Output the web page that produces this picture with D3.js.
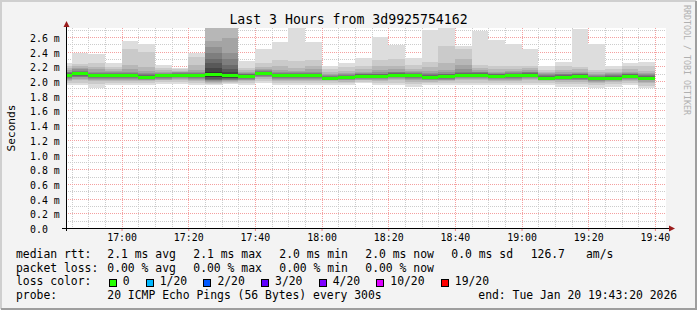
<!DOCTYPE html>
<html lang="en">
<head>
<meta charset="UTF-8">
<title>Last 3 Hours from 3d9925754162</title>
<script src="https://d3js.org/d3.v7.min.js"></script>
<style>
  body { margin: 0; background: #fff; }
  svg text { font-family: "DejaVu Sans Mono", monospace; fill: #000; }
</style>
</head>
<body>
<div id="chart"></div>
<script>
// start of each 300s step
var stepStarts = ["16:40", "16:45", "16:50", "16:55", "17:00", "17:05", "17:10", "17:15", "17:20",
    "17:25", "17:30", "17:35", "17:40", "17:45", "17:50", "17:55", "18:00", "18:05", "18:10",
    "18:15", "18:20", "18:25", "18:30", "18:35", "18:40", "18:45", "18:50", "18:55", "19:00",
    "19:05", "19:10", "19:15", "19:20", "19:25", "19:30", "19:35"];

// 20 sorted ping times (ms) per step
var pings = [
    [1.94, 1.97, 2.00, 2.02, 2.03, 2.04, 2.05, 2.06, 2.07, 2.08, 2.08, 2.09, 2.10, 2.11, 2.12, 2.13, 2.15, 2.18, 2.21, 2.25],
    [1.94, 1.98, 2.01, 2.03, 2.05, 2.06, 2.07, 2.08, 2.09, 2.10, 2.10, 2.11, 2.12, 2.13, 2.14, 2.16, 2.18, 2.20, 2.23, 2.38],
    [1.90, 1.96, 2.00, 2.02, 2.03, 2.04, 2.05, 2.06, 2.06, 2.07, 2.07, 2.08, 2.09, 2.10, 2.11, 2.13, 2.16, 2.19, 2.25, 2.37],
    [1.94, 1.97, 2.00, 2.02, 2.03, 2.04, 2.05, 2.06, 2.06, 2.07, 2.07, 2.08, 2.09, 2.10, 2.11, 2.12, 2.14, 2.16, 2.19, 2.24],
    [1.94, 1.97, 2.00, 2.02, 2.03, 2.04, 2.05, 2.06, 2.06, 2.07, 2.07, 2.08, 2.09, 2.10, 2.11, 2.13, 2.16, 2.22, 2.43, 2.55],
    [1.95, 1.98, 2.00, 2.01, 2.02, 2.03, 2.04, 2.04, 2.05, 2.05, 2.05, 2.06, 2.07, 2.08, 2.09, 2.11, 2.14, 2.19, 2.40, 2.50],
    [1.96, 1.99, 2.01, 2.02, 2.03, 2.04, 2.05, 2.06, 2.06, 2.07, 2.07, 2.08, 2.08, 2.09, 2.10, 2.11, 2.13, 2.15, 2.18, 2.22],
    [1.96, 1.99, 2.01, 2.03, 2.04, 2.05, 2.06, 2.07, 2.07, 2.08, 2.08, 2.09, 2.09, 2.10, 2.11, 2.12, 2.13, 2.14, 2.16, 2.18],
    [1.94, 1.97, 2.00, 2.02, 2.03, 2.04, 2.05, 2.06, 2.06, 2.07, 2.07, 2.08, 2.09, 2.10, 2.11, 2.13, 2.15, 2.22, 2.33, 2.38],
    [1.94, 1.96, 1.97, 1.99, 2.00, 2.01, 2.02, 2.03, 2.05, 2.06, 2.12, 2.18, 2.25, 2.30, 2.38, 2.47, 2.54, 2.80, 2.95, 3.10],
    [1.96, 1.98, 1.99, 2.00, 2.01, 2.02, 2.03, 2.04, 2.04, 2.05, 2.09, 2.12, 2.16, 2.22, 2.30, 2.38, 2.59, 2.80, 2.90, 3.00],
    [1.94, 1.98, 2.00, 2.01, 2.02, 2.03, 2.04, 2.05, 2.05, 2.06, 2.06, 2.07, 2.08, 2.09, 2.10, 2.11, 2.13, 2.15, 2.18, 2.28],
    [1.97, 2.00, 2.03, 2.05, 2.06, 2.07, 2.08, 2.09, 2.10, 2.10, 2.10, 2.11, 2.12, 2.13, 2.14, 2.15, 2.17, 2.19, 2.25, 2.44],
    [1.95, 1.98, 2.00, 2.02, 2.03, 2.04, 2.05, 2.06, 2.06, 2.07, 2.07, 2.08, 2.09, 2.10, 2.11, 2.12, 2.15, 2.20, 2.29, 2.53],
    [1.94, 1.97, 2.00, 2.02, 2.03, 2.04, 2.05, 2.06, 2.06, 2.07, 2.07, 2.08, 2.09, 2.10, 2.11, 2.12, 2.14, 2.18, 2.28, 2.85],
    [1.94, 1.97, 2.00, 2.02, 2.03, 2.04, 2.05, 2.06, 2.06, 2.07, 2.07, 2.08, 2.09, 2.10, 2.11, 2.13, 2.16, 2.21, 2.29, 2.53],
    [1.95, 1.98, 2.00, 2.01, 2.02, 2.02, 2.03, 2.03, 2.04, 2.04, 2.04, 2.05, 2.06, 2.06, 2.07, 2.08, 2.10, 2.12, 2.16, 2.20],
    [1.94, 1.97, 1.99, 2.01, 2.02, 2.03, 2.03, 2.04, 2.04, 2.05, 2.05, 2.06, 2.06, 2.07, 2.08, 2.09, 2.11, 2.14, 2.19, 2.24],
    [1.97, 1.99, 2.01, 2.02, 2.03, 2.04, 2.04, 2.05, 2.05, 2.06, 2.06, 2.07, 2.08, 2.09, 2.10, 2.11, 2.13, 2.16, 2.21, 2.31],
    [1.94, 1.97, 2.00, 2.02, 2.03, 2.04, 2.04, 2.05, 2.05, 2.06, 2.06, 2.07, 2.08, 2.09, 2.10, 2.12, 2.15, 2.20, 2.29, 2.60],
    [1.95, 1.98, 2.01, 2.03, 2.04, 2.05, 2.06, 2.07, 2.07, 2.08, 2.08, 2.09, 2.10, 2.11, 2.12, 2.13, 2.16, 2.21, 2.30, 2.49],
    [1.92, 1.96, 1.99, 2.01, 2.03, 2.04, 2.05, 2.06, 2.06, 2.07, 2.07, 2.08, 2.09, 2.10, 2.11, 2.12, 2.14, 2.17, 2.22, 2.31],
    [1.94, 1.97, 1.99, 2.01, 2.02, 2.03, 2.04, 2.04, 2.05, 2.05, 2.05, 2.06, 2.07, 2.08, 2.09, 2.11, 2.14, 2.19, 2.26, 2.69],
    [1.95, 1.98, 2.00, 2.01, 2.02, 2.03, 2.04, 2.05, 2.05, 2.06, 2.06, 2.07, 2.08, 2.09, 2.10, 2.12, 2.15, 2.25, 2.48, 2.72],
    [1.95, 1.98, 2.01, 2.03, 2.04, 2.05, 2.06, 2.07, 2.07, 2.08, 2.08, 2.09, 2.10, 2.11, 2.13, 2.16, 2.22, 2.30, 2.44, 2.48],
    [1.94, 1.98, 2.01, 2.03, 2.04, 2.05, 2.06, 2.07, 2.07, 2.08, 2.08, 2.09, 2.10, 2.11, 2.12, 2.13, 2.15, 2.18, 2.22, 2.68],
    [1.95, 1.98, 2.00, 2.02, 2.03, 2.04, 2.05, 2.05, 2.06, 2.06, 2.06, 2.07, 2.08, 2.09, 2.10, 2.11, 2.13, 2.16, 2.20, 2.56],
    [1.94, 1.97, 2.00, 2.02, 2.03, 2.04, 2.05, 2.06, 2.06, 2.07, 2.07, 2.08, 2.09, 2.10, 2.11, 2.12, 2.14, 2.17, 2.20, 2.51],
    [1.95, 1.98, 2.01, 2.03, 2.04, 2.05, 2.06, 2.07, 2.07, 2.08, 2.08, 2.09, 2.10, 2.11, 2.12, 2.13, 2.15, 2.18, 2.21, 2.43],
    [1.95, 1.98, 2.00, 2.01, 2.02, 2.03, 2.03, 2.04, 2.04, 2.04, 2.04, 2.05, 2.06, 2.07, 2.08, 2.09, 2.11, 2.13, 2.15, 2.20],
    [1.92, 1.96, 1.99, 2.01, 2.02, 2.03, 2.04, 2.04, 2.05, 2.05, 2.05, 2.06, 2.07, 2.08, 2.09, 2.10, 2.12, 2.15, 2.20, 2.26],
    [1.92, 1.96, 1.99, 2.01, 2.02, 2.03, 2.04, 2.05, 2.05, 2.06, 2.06, 2.07, 2.08, 2.09, 2.10, 2.11, 2.13, 2.16, 2.19, 2.71],
    [1.90, 1.94, 1.97, 1.99, 2.00, 2.01, 2.01, 2.02, 2.02, 2.03, 2.03, 2.04, 2.05, 2.06, 2.07, 2.08, 2.10, 2.12, 2.15, 2.51],
    [1.92, 1.96, 1.99, 2.00, 2.01, 2.02, 2.03, 2.03, 2.04, 2.04, 2.04, 2.05, 2.06, 2.07, 2.08, 2.09, 2.11, 2.13, 2.16, 2.20],
    [1.95, 1.98, 2.00, 2.02, 2.03, 2.04, 2.04, 2.05, 2.05, 2.06, 2.06, 2.07, 2.08, 2.09, 2.10, 2.11, 2.13, 2.16, 2.20, 2.24],
    [1.90, 1.93, 1.97, 1.99, 2.01, 2.02, 2.03, 2.03, 2.04, 2.04, 2.04, 2.05, 2.06, 2.07, 2.08, 2.09, 2.11, 2.14, 2.20, 2.26]
];

// median rtt (ms) per step, all with 0 loss
var medianRtt = [2.08, 2.10, 2.07, 2.07, 2.07, 2.05, 2.07, 2.08, 2.07, 2.09, 2.07, 2.06,
    2.10, 2.07, 2.07, 2.07, 2.04, 2.05, 2.06, 2.06, 2.08, 2.07, 2.05, 2.06,
    2.08, 2.08, 2.06, 2.07, 2.08, 2.04, 2.05, 2.06, 2.03, 2.04, 2.06, 2.04];

var xTickLabels = ["17:00", "17:20", "17:40", "18:00", "18:20", "18:40", "19:00", "19:20", "19:40"];
var yTickValues = [0, 0.2, 0.4, 0.6, 0.8, 1.0, 1.2, 1.4, 1.6, 1.8, 2.0, 2.2, 2.4, 2.6];

var lossLabels = ["0", "1/20", "2/20", "3/20", "4/20", "10/20", "19/20"];
var lossColors = ["#26ff00", "#00b8ff", "#0059ff", "#5e00ff", "#7e00ff", "#dd00ff", "#ff0000"];

var rttLegend = ["2.1 ms avg", "2.1 ms max", "2.0 ms min", "2.0 ms now", "0.0 ms sd"];
var lossLegend = ["0.00 % avg", "0.00 % max", "0.00 % min", "0.00 % now"];

var W = 697, H = 310;
var plotLeft = 66, plotTop = 28, plotW = 600, plotH = 200;
var parseT = d3.timeParse("%H:%M:%S");
var parseHM = d3.timeParse("%H:%M");

var svg = d3.select("#chart").append("svg").attr("width", W).attr("height", H);

// canvas + 3d border
svg.append("rect").attr("width", W).attr("height", H).attr("fill", "#f3f3f3");
svg.append("path").attr("d", "M1,309 V1 H696").attr("fill", "none").attr("stroke", "#cfcfcf").attr("stroke-width", 2);
svg.append("path").attr("d", "M1,309 H696 V1").attr("fill", "none").attr("stroke", "#9e9e9e").attr("stroke-width", 2);

var x = d3.scaleTime().domain([parseT("16:43:20"), parseT("19:43:20")]).range([plotLeft, plotLeft + plotW]);
var y = d3.scaleLinear().domain([0, 2.7226]).range([plotTop + plotH, plotTop]);

svg.append("rect").attr("x", plotLeft).attr("y", plotTop).attr("width", plotW).attr("height", plotH).attr("fill", "#fff");

svg.append("clipPath").attr("id", "plot").append("rect")
    .attr("x", plotLeft + 1).attr("y", plotTop).attr("width", plotW - 1).attr("height", plotH);

// grid
var grid = svg.append("g").attr("fill", "none").attr("stroke-width", 1).attr("stroke-dasharray", "1,1");
var minorX = x.ticks(d3.timeMinute.every(5));
var majorX = xTickLabels.map(parseHM);
var minorY = d3.range(1, 28).map(function (d) { return d / 10; });

grid.selectAll(".gx").data(minorX).enter().append("line")
    .attr("x1", function (d) { return Math.round(x(d)) + 0.5; })
    .attr("x2", function (d) { return Math.round(x(d)) + 0.5; })
    .attr("y1", plotTop).attr("y2", plotTop + plotH).attr("stroke", "#cccccc");
grid.selectAll(".gy").data(minorY).enter().append("line")
    .attr("x1", plotLeft).attr("x2", plotLeft + plotW)
    .attr("y1", function (d) { return Math.round(y(d)) + 0.5; })
    .attr("y2", function (d) { return Math.round(y(d)) + 0.5; })
    .attr("stroke", "#cccccc");
grid.selectAll(".mx").data(majorX).enter().append("line")
    .attr("x1", function (d) { return Math.round(x(d)) + 0.5; })
    .attr("x2", function (d) { return Math.round(x(d)) + 0.5; })
    .attr("y1", plotTop).attr("y2", plotTop + plotH).attr("stroke", "#f4a0a0");
grid.selectAll(".my").data(yTickValues.slice(1)).enter().append("line")
    .attr("x1", plotLeft).attr("x2", plotLeft + plotW)
    .attr("y1", function (d) { return Math.round(y(d)) + 0.5; })
    .attr("y2", function (d) { return Math.round(y(d)) + 0.5; })
    .attr("stroke", "#f4a0a0");

// smoke: layer i spans ping i .. ping (21-i)
var layers = [];
stepStarts.forEach(function (s, k) {
    var t0 = parseHM(s), t1 = d3.timeMinute.offset(t0, 5);
    var p = pings[k];
    for (var i = 0; i < 10; i++) {
        layers.push({t0: t0, t1: t1, lo: p[i], hi: p[19 - i],
            gray: Math.floor(190 / 10 * (10 - (i + 1))) + 50});
    }
});

var marks = svg.append("g").attr("clip-path", "url(#plot)").attr("shape-rendering", "crispEdges");
marks.selectAll(".smoke").data(layers).enter().append("rect")
    .attr("x", function (d) { return x(d.t0); })
    .attr("width", function (d) { return x(d.t1) - x(d.t0); })
    .attr("y", function (d) { return y(d.hi); })
    .attr("height", function (d) { return y(d.lo) - y(d.hi); })
    .attr("fill", function (d) { return d3.rgb(d.gray, d.gray, d.gray); });

marks.selectAll(".median").data(medianRtt).enter().append("rect")
    .attr("x", function (d, k) { return x(parseHM(stepStarts[k])); })
    .attr("width", function (d, k) {
        var t0 = parseHM(stepStarts[k]);
        return x(d3.timeMinute.offset(t0, 5)) - x(t0);
    })
    .attr("y", function (d) { return y(d) - 1.5; })
    .attr("height", 3)
    .attr("fill", lossColors[0]);

// axes
var xAxis = svg.append("g").attr("transform", "translate(0," + (plotTop + plotH) + ")")
    .call(d3.axisBottom(x).tickValues(majorX).tickFormat(d3.timeFormat("%H:%M")).tickSize(3).tickPadding(3));
xAxis.select(".domain").remove();
xAxis.selectAll(".tick line").attr("stroke", "#f08080");
xAxis.selectAll("text").attr("font-size", "9.9px").attr("font-family", "DejaVu Sans Mono");

var yAxis = svg.append("g").attr("transform", "translate(" + plotLeft + ",0)")
    .call(d3.axisLeft(y).tickValues(yTickValues).tickSize(0)
        .tickFormat(function (d) { return d3.format(".1f")(d) + (d === 0 ? "" : " m"); }));
yAxis.select(".domain").remove();
yAxis.selectAll("text").attr("text-anchor", "start").attr("x", 30 - plotLeft).attr("dy", "0.45em")
    .attr("font-size", "9.9px").attr("font-family", "DejaVu Sans Mono");

svg.append("line").attr("x1", 62).attr("x2", 670).attr("y1", plotTop + plotH + 0.5).attr("y2", plotTop + plotH + 0.5)
    .attr("stroke", "#000");
svg.append("line").attr("x1", plotLeft + 0.5).attr("x2", plotLeft + 0.5).attr("y1", 24).attr("y2", plotTop + plotH + 3)
    .attr("stroke", "#000");
svg.append("path").attr("d", "M669,225.5 L675,228.5 L669,231.5 Z").attr("fill", "#9b1c1c");
svg.append("path").attr("d", "M63.5,27 L66.5,21 L69.5,27 Z").attr("fill", "#9b1c1c");

// titles
svg.append("text").attr("x", 348.5).attr("y", 24).attr("text-anchor", "middle")
    .attr("font-size", "13.2px").text("Last 3 Hours from 3d9925754162");
svg.append("text").attr("transform", "translate(15,128) rotate(-90)").attr("text-anchor", "middle")
    .attr("font-size", "11.2px").text("Seconds");
svg.append("text").attr("transform", "translate(684,5) rotate(90)")
    .attr("font-size", "8.3px").style("fill", "#b0b0b0").text("RRDTOOL / TOBI OETIKER");

// legend
var legend = svg.append("g").attr("font-size", "11.4px");
var col = [107.3, 193.3, 279.3, 365.3, 451.3];
legend.append("text").attr("x", 16).attr("y", 258).text("median rtt:");
rttLegend.forEach(function (s, i) {
    legend.append("text").attr("x", col[i]).attr("y", 258).text(s);
});
legend.append("text").attr("x", 530.7).attr("y", 258).text("126.7");
legend.append("text").attr("x", 586).attr("y", 258).text("am/s");

legend.append("text").attr("x", 16).attr("y", 271.7).text("packet loss:");
lossLegend.forEach(function (s, i) {
    legend.append("text").attr("x", col[i]).attr("y", 271.7).text(s);
});

legend.append("text").attr("x", 16).attr("y", 285.4).text("loss color:");
var lx = 108.7;
lossLabels.forEach(function (s, i) {
    legend.append("rect").attr("x", Math.round(lx) + 0.5).attr("y", 279.5).attr("width", 7).attr("height", 7)
        .attr("fill", lossColors[i]).attr("stroke", "#000");
    var t = legend.append("text").attr("x", lx + 14).attr("y", 285.4).text(s);
    lx = lx + 14 + t.node().getComputedTextLength() + 16.2;
});

legend.append("text").attr("x", 16).attr("y", 299).text("probe:");
legend.append("text").attr("x", 107.3).attr("y", 299).text("20 ICMP Echo Pings (56 Bytes) every 300s");
legend.append("text").attr("x", 478.3).attr("y", 299).text("end: Tue Jan 20 19:43:20 2026");
</script>
</body>
</html>
